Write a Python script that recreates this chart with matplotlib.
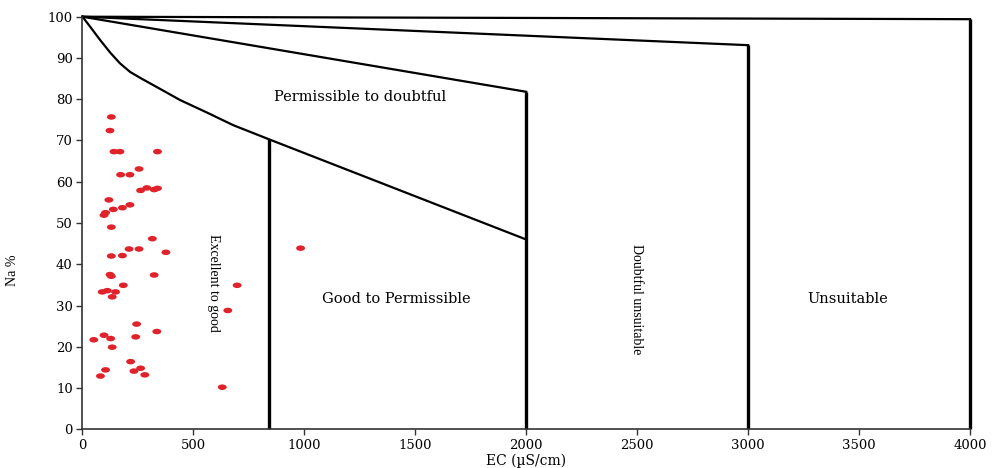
import numpy as np
import matplotlib.pyplot as plt
from matplotlib.markers import MarkerStyle
from matplotlib.transforms import Affine2D

# sample points
ec = [130, 124, 142, 169, 338, 172, 214, 255, 262, 290, 323, 338, 119, 97, 104,
      139, 180, 214, 130, 315, 130, 180, 210, 255, 376, 983, 124, 130, 323, 184,
      697, 89, 112, 149, 134, 655, 244, 335, 51, 97, 127, 240, 134, 217, 104,
      232, 262, 281, 81, 630]
na = [75.7, 72.4, 67.3, 67.3, 67.3, 61.7, 61.7, 63.1, 57.9, 58.5, 58.1, 58.4, 55.6,
      51.9, 52.5, 53.3, 53.7, 54.4, 49.0, 46.2, 42.0, 42.1, 43.7, 43.7, 42.9, 43.9,
      37.5, 37.1, 37.4, 34.9, 34.9, 33.3, 33.6, 33.3, 32.1, 28.8, 25.5, 23.7, 21.7,
      22.8, 22.0, 22.4, 19.9, 16.4, 14.4, 14.1, 14.8, 13.2, 12.9, 10.2]

# class boundaries
curve_x = [0, 30, 79, 125, 169, 215, 266, 350, 440, 560, 680, 840, 2000]
curve_y = [100, 97.9, 94.4, 91.3, 88.7, 86.6, 85.0, 82.5, 79.8, 76.8, 73.7, 70.3, 46.0]
line3_x = [0, 2000]
line3_y = [100, 81.8]
line2_x = [0, 3000]
line2_y = [100, 93.1]
line1_x = [0, 4000]
line1_y = [100, 99.4]
vert_x = [840, 2000, 3000, 4000]
vert_top = [70.3, 81.8, 93.1, 99.4]

fig = plt.figure(figsize=(9.96, 4.68), dpi=100)
ax = fig.add_axes([0.0828, 0.0827, 0.8911, 0.8816])

ax.plot(curve_x, curve_y, color='black', lw=1.6, clip_on=False)
ax.plot(line3_x, line3_y, color='black', lw=1.6, clip_on=False)
ax.plot(line2_x, line2_y, color='black', lw=1.6, clip_on=False)
ax.plot(line1_x, line1_y, color='black', lw=1.6, clip_on=False)
ax.vlines(vert_x, 0, vert_top, color='black', lw=2.4, clip_on=False)

ell = MarkerStyle('o', transform=Affine2D().scale(1.6, 1.0))
ax.scatter(ec, na, marker=ell, s=16, color='#e0222a', edgecolors='none', zorder=3)

serif_wide = 'DejaVu Serif'
serif = 'Liberation Serif'
ax.text(1250, 80.5, 'Permissible to doubtful', family=serif_wide, fontsize=10.5,
        ha='center', va='center')
ax.text(1415, 31.5, 'Good to Permissible', family=serif_wide, fontsize=10.5,
        ha='center', va='center')
ax.text(3450, 31.5, 'Unsuitable', family=serif_wide, fontsize=10.5,
        ha='center', va='center')
ax.text(590, 35.5, 'Excellent to good', family=serif, fontsize=10,
        rotation=-90, ha='center', va='center')
ax.text(2495, 31.5, 'Doubtful unsuitable', family=serif, fontsize=10,
        rotation=-90, ha='center', va='center')

ax.set_xlim(0, 4000)
ax.set_ylim(0, 100)
ax.set_xticks(np.arange(0, 4001, 500))
ax.set_yticks(np.arange(0, 101, 10))
for lab in ax.get_xticklabels() + ax.get_yticklabels():
    lab.set_family(serif_wide)
    lab.set_fontsize(9.5)
ax.tick_params(length=4, width=1, color='#333333', pad=3)

ax.set_xlabel('EC (µS/cm)', family=serif_wide, fontsize=10, labelpad=1)
ax.set_ylabel('Na %', family=serif, fontsize=10)
ax.yaxis.set_label_coords(-0.072, 0.386)

ax.spines['top'].set_visible(False)
ax.spines['right'].set_visible(False)
ax.spines['left'].set_linewidth(1.2)
ax.spines['bottom'].set_linewidth(1.2)
ax.spines['left'].set_color('#333333')
ax.spines['bottom'].set_color('#333333')

fig.savefig('out.png', dpi=100)
